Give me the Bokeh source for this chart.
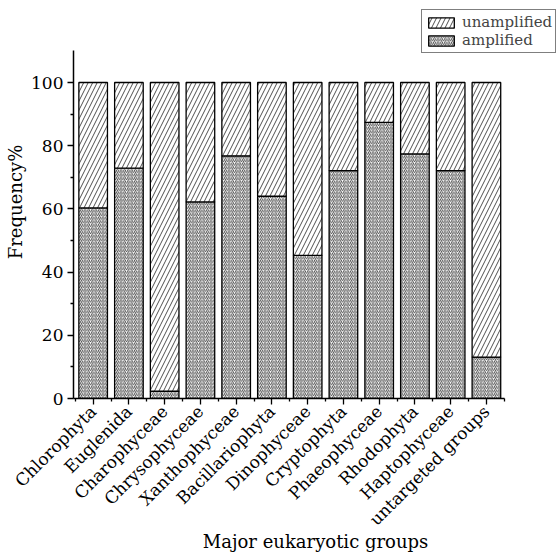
import numpy as np
from bokeh.plotting import figure
from bokeh.models import ColumnDataSource, FixedTicker, Legend, LegendItem, Range1d
from bokeh.embed import file_html
from bokeh.resources import INLINE

groups = ["Chlorophyta", "Euglenida", "Charophyceae", "Chrysophyceae", "Xanthophyceae",
          "Bacillariophyta", "Dinophyceae", "Cryptophyta", "Phaeophyceae", "Rhodophyta",
          "Haptophyceae", "untargeted groups"]
amplified = [60.3, 72.9, 2.3, 62.2, 76.8, 64.0, 45.3, 72.1, 87.4, 77.4, 72.1, 13.1]
total = [100] * len(groups)
y_ticks = [0, 20, 40, 60, 80, 100]
y_minor = [10, 30, 50, 70, 90]
y_axis_max = 110

pos = list(range(len(groups)))
src = ColumnDataSource(dict(x=pos, amp=amplified, tot=total, zero=[0] * len(groups)))

FONT = "DejaVu Serif"

# layout geometry (pixels)
W, H = 557, 556
LEFT, TOP, BOTTOM = 73, 5, 158
FRAME_W = W - LEFT
FRAME_H = H - TOP - BOTTOM
PX_PER_CAT = 35.75   # width of one category on the axis
PX_PER_Y = 3.16      # pixels per percent
x0 = -0.55
x1 = x0 + FRAME_W / PX_PER_CAT
y1 = FRAME_H / PX_PER_Y

p = figure(width=W, height=H, output_backend="svg", toolbar_location=None,
           x_range=Range1d(x0, x1), y_range=Range1d(0, y1),
           min_border_left=LEFT, min_border_top=TOP, min_border_right=0,
           min_border_bottom=BOTTOM)
p.outline_line_color = None
p.xgrid.visible = False
p.ygrid.visible = False

r_amp = p.vbar(x="x", bottom="zero", top="amp", width=0.8, source=src,
               fill_color="white", line_color="black", line_width=1.3,
               hatch_pattern="/", hatch_scale=3.6, hatch_weight=0.9, hatch_color="#333333")
r_un = p.vbar(x="x", bottom="amp", top="tot", width=0.8, source=src,
              fill_color="white", line_color="black", line_width=1.3,
              hatch_pattern="/", hatch_scale=9, hatch_weight=0.8, hatch_color="#222222")

legend = Legend(items=[LegendItem(label="unamplified", renderers=[r_un]),
                       LegendItem(label="amplified", renderers=[r_amp])],
                location=(348, 345))
legend.label_text_font = FONT
legend.label_text_font_size = "15px"
legend.glyph_width = 32
legend.glyph_height = 13
legend.label_height = 15
legend.spacing = 0
legend.padding = 3
legend.margin = 0
legend.label_standoff = 5
legend.border_line_color = "black"
legend.border_line_width = 1
legend.background_fill_alpha = 1
p.add_layout(legend, "center")

p.yaxis.ticker = FixedTicker(ticks=y_ticks, minor_ticks=y_minor)
p.yaxis.bounds = (0, y_axis_max)
p.yaxis.axis_label = "Frequency%"
p.xaxis.ticker = FixedTicker(ticks=pos, minor_ticks=[i - 0.5 for i in pos] + [pos[-1] + 0.5])
p.xaxis.bounds = (x0, pos[-1] + 0.5)
p.xaxis.major_label_overrides = {i: g for i, g in zip(pos, groups)}
p.xaxis.major_label_orientation = np.pi / 4
p.xaxis.axis_label = "Major eukaryotic groups"

for ax in (p.xaxis[0], p.yaxis[0]):
    ax.axis_line_color = "black"
    ax.axis_line_width = 1.5
    ax.major_tick_line_color = "black"
    ax.minor_tick_line_color = "black"
    ax.major_tick_line_width = 1.3
    ax.minor_tick_line_width = 1.3
    ax.major_tick_in = 0
    ax.major_tick_out = 6
    ax.minor_tick_in = 0
    ax.minor_tick_out = 3
    ax.major_label_text_font = FONT
    ax.major_label_text_font_size = "17px"
    ax.major_label_text_color = "black"
    ax.axis_label_text_font = FONT
    ax.axis_label_text_font_size = "18px"
    ax.axis_label_text_font_style = "normal"
    ax.axis_label_text_color = "black"
    ax.major_label_standoff = 4

p.xaxis.axis_label_standoff = -8
p.yaxis.axis_label_standoff = 2

open("out.html", "w").write(file_html(p, INLINE))
